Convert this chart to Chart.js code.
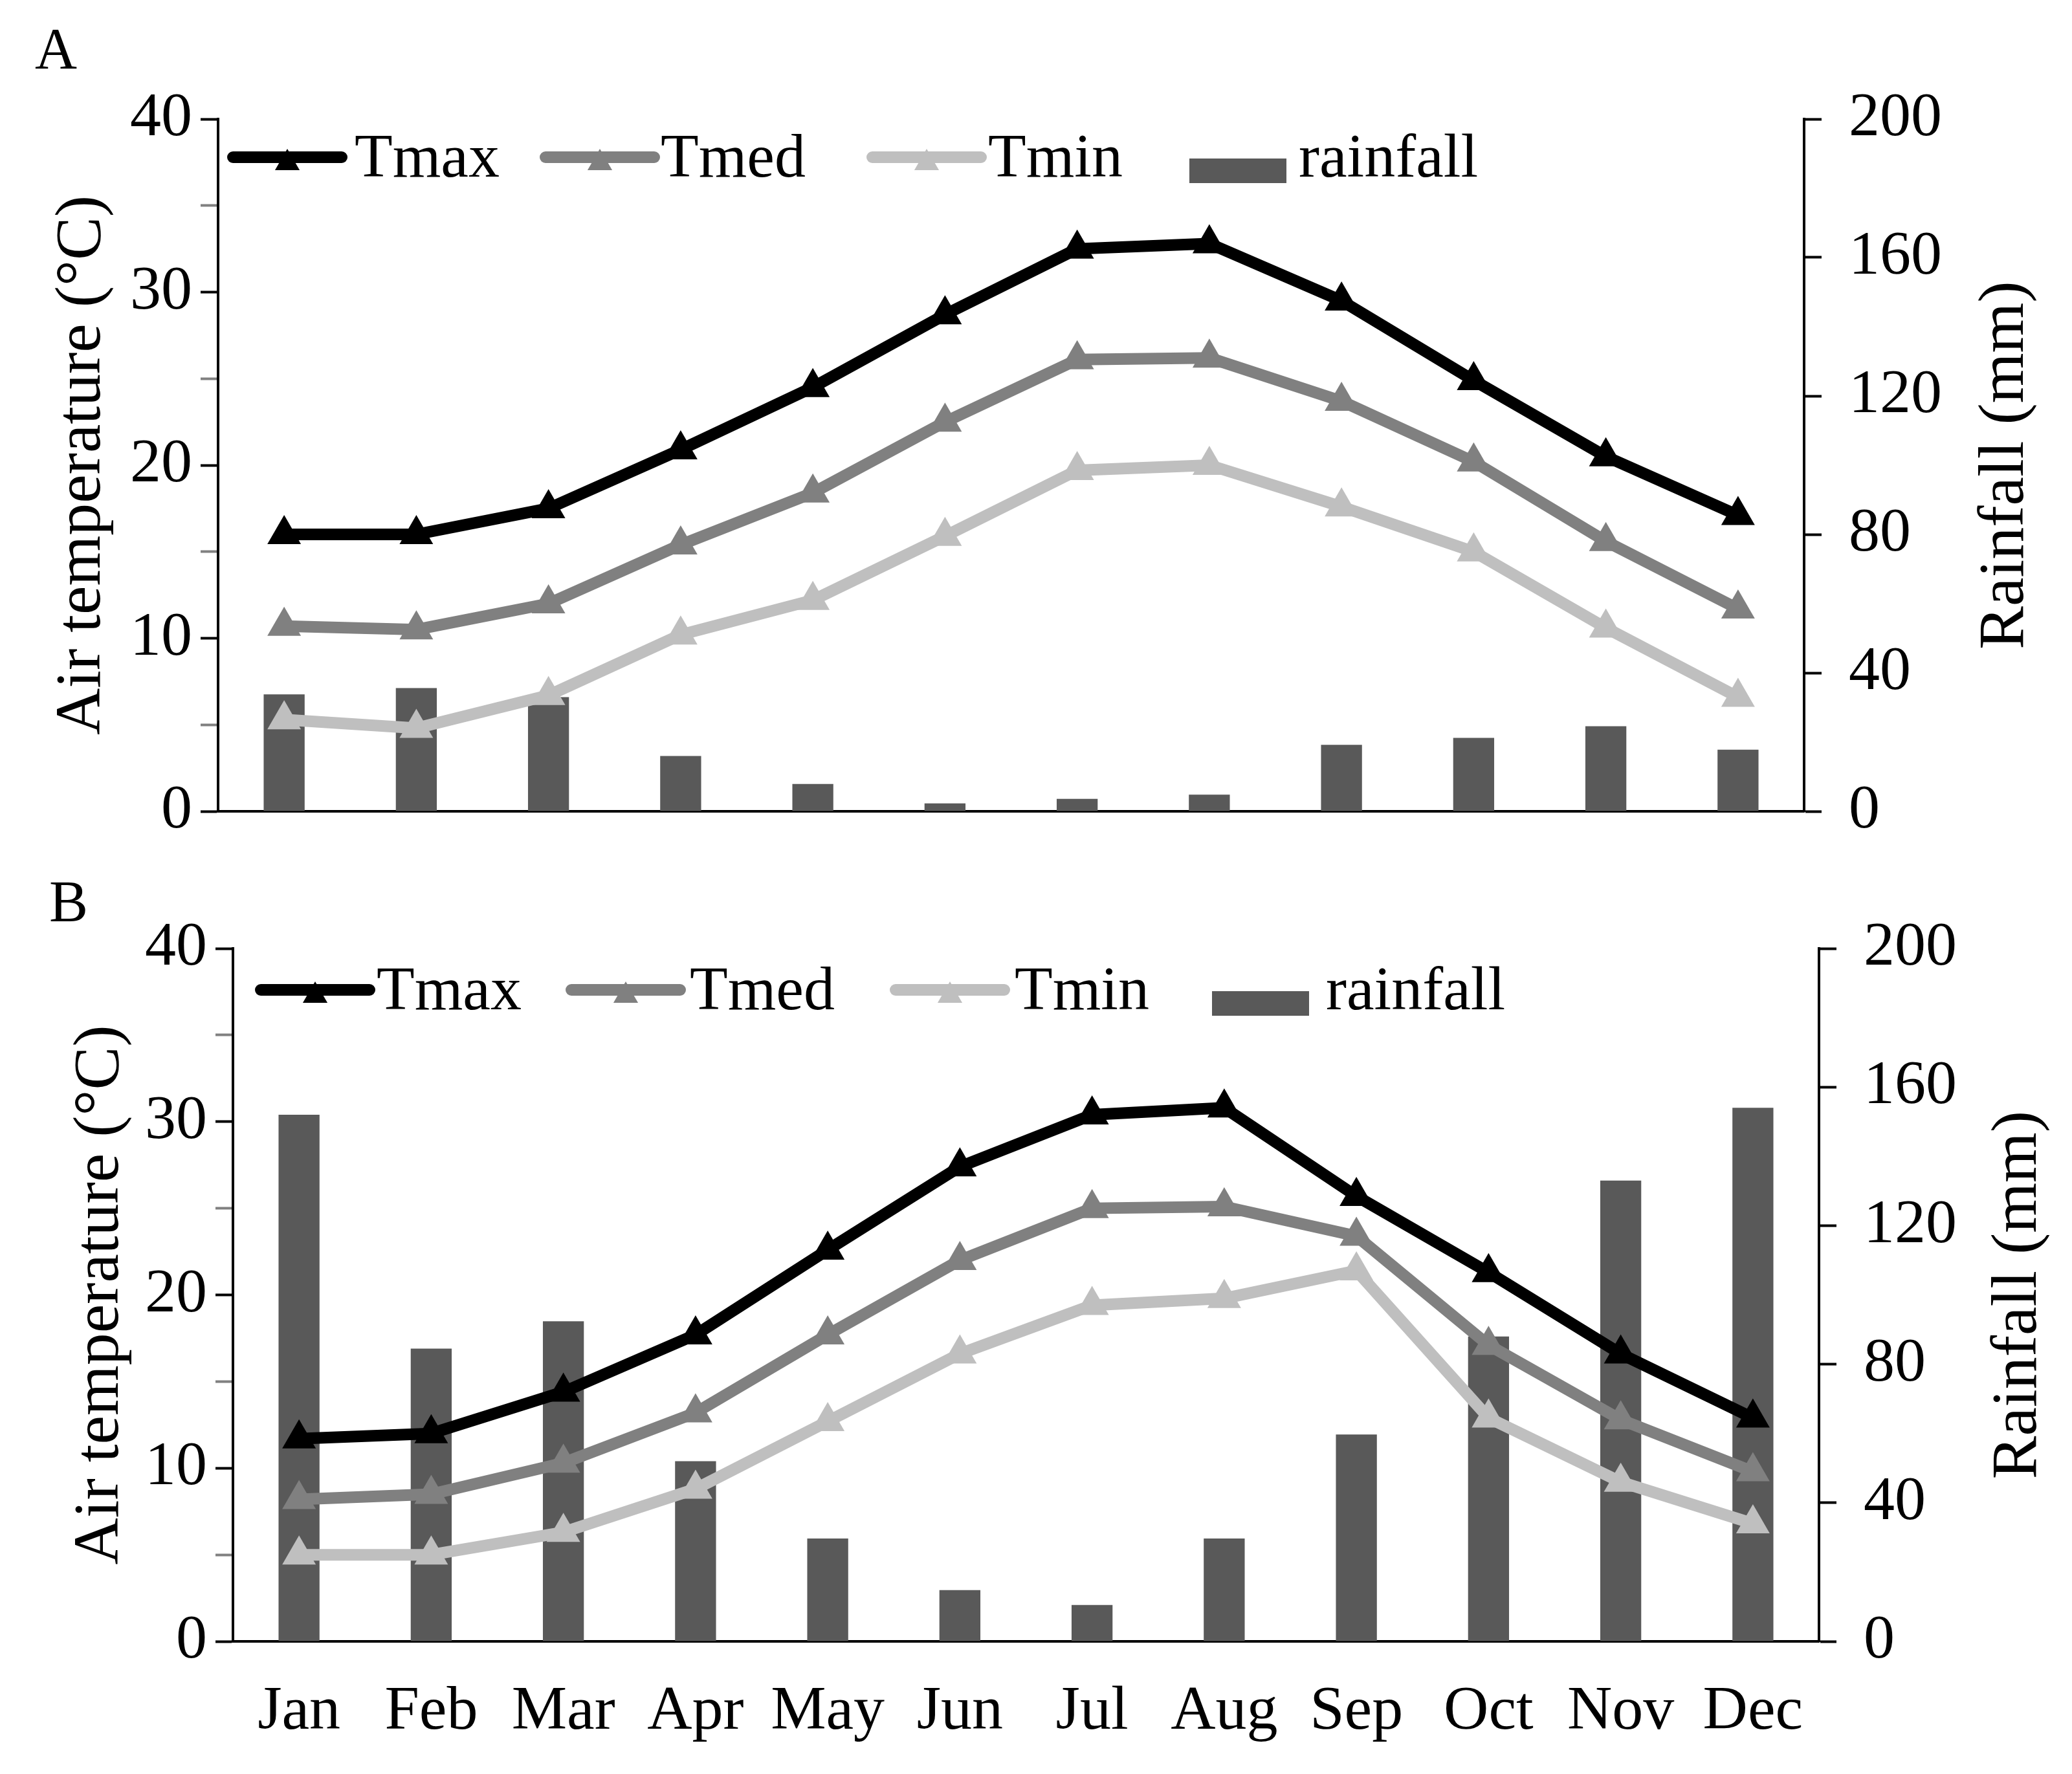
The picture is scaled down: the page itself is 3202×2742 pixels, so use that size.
<!DOCTYPE html>
<html lang="en">
<head>
<meta charset="UTF-8"/>
<title>Air temperature and rainfall</title>
<script src="https://cdn.jsdelivr.net/npm/chart.js@4.4.1/dist/chart.umd.min.js"></script>
<style>
  body { margin:0; background:#fff; }
  canvas { position:absolute; left:0; }
</style>
</head>
<body>
<canvas id="chartA" width="3202" height="1360" style="top:0px;width:3202px;height:1360px;"></canvas>
<canvas id="chartB" width="3202" height="1382" style="top:1360px;width:3202px;height:1382px;"></canvas>
<script>
// data
var months = ['Jan','Feb','Mar','Apr','May','Jun','Jul','Aug','Sep','Oct','Nov','Dec'];

var tmaxA = [16.0, 16.0, 17.5, 20.9, 24.5, 28.7, 32.5, 32.8, 29.5, 24.9, 20.5, 17.1];
var tmedA = [10.7, 10.5, 12.0, 15.4, 18.4, 22.5, 26.1, 26.2, 23.7, 20.2, 15.6, 11.7];
var tminA = [5.3, 4.8, 6.7, 10.2, 12.2, 15.9, 19.7, 20.0, 17.6, 15.0, 10.6, 6.6];
var rainA = [33.8, 35.6, 33.0, 16.0, 7.9, 2.3, 3.6, 4.8, 19.2, 21.2, 24.6, 17.8];

var tmaxB = [11.7, 12.0, 14.4, 17.7, 22.6, 27.4, 30.4, 30.8, 25.7, 21.3, 16.6, 12.9];
var tmedB = [8.2, 8.5, 10.3, 13.2, 17.7, 22.0, 25.0, 25.1, 23.4, 17.1, 12.8, 9.8];
var tminB = [5.0, 5.0, 6.3, 8.8, 12.7, 16.6, 19.4, 19.8, 21.4, 12.9, 9.2, 6.8];
var rainB = [152, 84.5, 92.4, 52, 29.7, 14.8, 10.5, 29.7, 59.7, 88, 133, 154];

var tempTicks = [0, 10, 20, 30, 40];
var rainTicks = [0, 40, 80, 120, 160, 200];

var FONT = '"Liberation Serif", "Times New Roman", serif';

// legend inside the plot, right axis title (reads bottom-to-top), panel letter
var panelDecor = {
  id: 'panelDecor',
  afterDraw: function(chart, args, opts) {
    var ctx = chart.ctx, a = chart.chartArea;
    ctx.save();
    ctx.fillStyle = '#000';
    ctx.font = '90px ' + FONT;
    ctx.textBaseline = 'alphabetic';
    ctx.fillText(opts.letter, opts.letterX, opts.letterY);

    ctx.save();
    ctx.translate(opts.rightTitleX, (a.top + a.bottom) / 2);
    ctx.rotate(-Math.PI / 2);
    ctx.font = '100px ' + FONT;
    ctx.textAlign = 'center';
    ctx.textBaseline = 'middle';
    ctx.fillText('Rainfall (mm)', 0, 0);
    ctx.restore();

    var y = opts.legendY;
    ctx.font = '96px ' + FONT;
    ctx.textBaseline = 'alphabetic';
    chart.data.datasets.forEach(function(ds, i) {
      var x = a.left + opts.sampleX[i];
      if (ds.type === 'line') {
        ctx.strokeStyle = ds.borderColor;
        ctx.lineWidth = 18;
        ctx.lineCap = 'round';
        ctx.beginPath();
        ctx.moveTo(x, y);
        ctx.lineTo(x + 168, y);
        ctx.stroke();
        var cx = x + 84, cy = y + 9, r = 22;
        ctx.fillStyle = ds.borderColor;
        ctx.beginPath();
        ctx.moveTo(cx, cy - r);
        ctx.lineTo(cx + r * 0.866, cy + r / 2);
        ctx.lineTo(cx - r * 0.866, cy + r / 2);
        ctx.closePath();
        ctx.fill();
      } else {
        ctx.fillStyle = ds.backgroundColor;
        ctx.fillRect(x, y + 2, 150, 38);
      }
      ctx.fillStyle = '#000';
      ctx.fillText(ds.label, a.left + opts.textX[i], y + 30);
    });
    ctx.restore();
  }
};

function makeChart(id, tmax, tmed, tmin, rain, lay) {
  var minorColor = function(step) {
    return function(c) { return (c.tick && c.tick.value % step === 0) ? '#000' : '#808080'; };
  };
  return new Chart(document.getElementById(id), {
    type: 'bar',
    data: {
      labels: months,
      datasets: [
        { type: 'line', label: 'Tmax', data: tmax, yAxisID: 'y', order: 1,
          borderColor: '#000000', backgroundColor: '#000000', borderWidth: 18,
          pointStyle: 'triangle', pointRadius: 30, pointBackgroundColor: '#000000', pointBorderWidth: 0,
          tension: 0, borderJoinStyle: 'round' },
        { type: 'line', label: 'Tmed', data: tmed, yAxisID: 'y', order: 2,
          borderColor: '#808080', backgroundColor: '#808080', borderWidth: 18,
          pointStyle: 'triangle', pointRadius: 30, pointBackgroundColor: '#808080', pointBorderWidth: 0,
          tension: 0, borderJoinStyle: 'round' },
        { type: 'line', label: 'Tmin', data: tmin, yAxisID: 'y', order: 3,
          borderColor: '#bfbfbf', backgroundColor: '#bfbfbf', borderWidth: 18,
          pointStyle: 'triangle', pointRadius: 30, pointBackgroundColor: '#bfbfbf', pointBorderWidth: 0,
          tension: 0, borderJoinStyle: 'round' },
        { type: 'bar', label: 'rainfall', data: rain, yAxisID: 'y1', order: 4,
          backgroundColor: '#595959', barPercentage: 0.31, categoryPercentage: 1 }
      ]
    },
    options: {
      responsive: false,
      animation: false,
      devicePixelRatio: 1,
      layout: { padding: { top: lay.top, left: 0, right: 0, bottom: 0 } },
      plugins: {
        legend: { display: false },
        tooltip: { enabled: false },
        panelDecor: lay.decor
      },
      scales: {
        x: {
          offset: true,
          afterFit: function(s) { s.height = lay.xHeight; },
          grid: { display: true, drawOnChartArea: false, drawTicks: false },
          border: { display: true, color: '#000', width: 4 },
          ticks: { display: lay.showMonths, color: '#000', padding: 52, maxRotation: 0,
                   font: { family: FONT, size: 96 } }
        },
        y: {
          position: 'left', min: 0, max: 40,
          afterFit: function(s) { s.width = lay.left; },
          grid: { drawOnChartArea: false, drawTicks: true, tickLength: 27, tickWidth: 4, tickColor: minorColor(10) },
          border: { display: true, color: '#000', width: 4 },
          ticks: { stepSize: 5, padding: 13, color: '#000', font: { family: FONT, size: 96 },
                   callback: function(v) { return tempTicks.indexOf(v) >= 0 ? v : ''; } },
          title: { display: true, text: 'Air temperature (\u00B0C)', color: '#000',
                   font: { family: FONT, size: 100, lineHeight: 1.2 }, padding: { top: lay.titlePad, bottom: 0 } }
        },
        y1: {
          position: 'right', min: 0, max: 200,
          afterFit: function(s) { s.width = 3202 - lay.right; },
          grid: { drawOnChartArea: false, drawTicks: true, tickLength: 27, tickWidth: 4, tickColor: minorColor(40) },
          border: { display: true, color: '#000', width: 4 },
          ticks: { stepSize: 20, padding: 42, color: '#000', font: { family: FONT, size: 96 },
                   callback: function(v) { return rainTicks.indexOf(v) >= 0 ? v : ''; } }
        }
      }
    },
    plugins: [panelDecor]
  });
}

makeChart('chartA', tmaxA, tmedA, tminA, rainA, {
  top: 184, xHeight: 1360 - 1254, left: 337, right: 2788, titlePad: 68, showMonths: false,
  decor: { letter: 'A', letterX: 54, letterY: 106, rightTitleX: 3100, legendY: 243,
           sampleX: [23, 506, 1011, 1501], textX: [211, 684, 1190, 1670] }
});

makeChart('chartB', tmaxB, tmedB, tminB, rainB, {
  top: 106, xHeight: 1382 - 1177, left: 360, right: 2811, titlePad: 96, showMonths: true,
  decor: { letter: 'B', letterX: 76, letterY: 64, rightTitleX: 3120, legendY: 170,
           sampleX: [43, 523, 1024, 1513], textX: [222, 706, 1208, 1689] }
});
</script>
</body>
</html>
